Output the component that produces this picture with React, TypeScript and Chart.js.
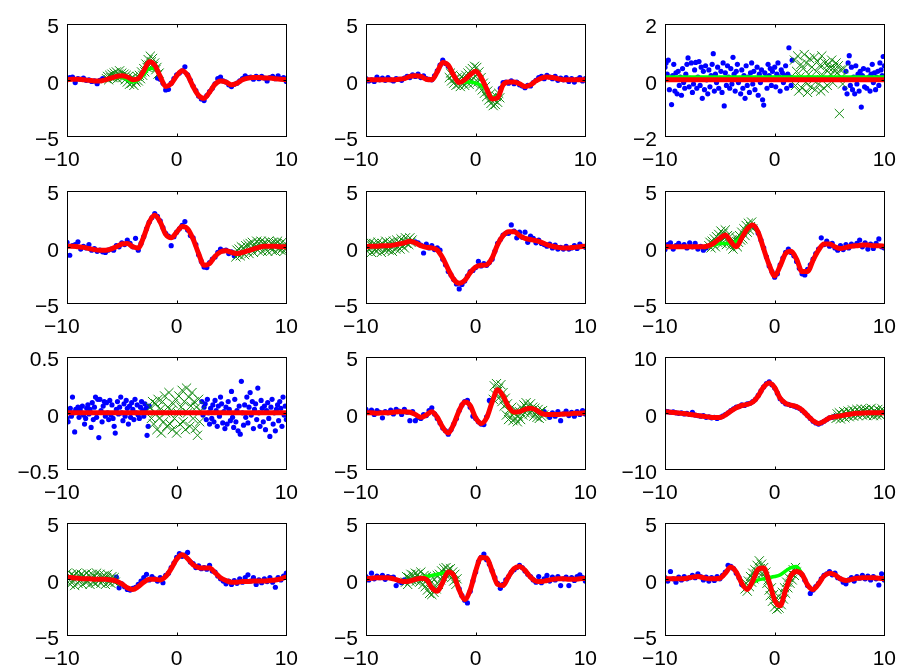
import React, { useEffect, useRef } from 'react';
import { Chart, registerables } from 'chart.js';

Chart.register(...registerables);

type Seg = { x0: number; step: number; y: number[] };

// ---------- shared x grid for the fitted (red) and true (green) curves ----------
const CURVE_X0 = -10;
const CURVE_STEP = 0.5;
const X_TICKS = [-10, 0, 10];

// ---------- panel 1 ----------
const red1 = [0, 0.05, 0.05, 0, -0.05, -0.1, -0.1, 0, 0.15, 0.3, 0.35, 0.25, 0, 0.1, 0.8, 1.6, 1.3, 0.3, -0.6, -0.35, 0.35, 0.8, 0.4, -0.6, -1.4, -1.65, -1.1, -0.4, -0.1, -0.2, -0.45, -0.3, 0, 0.15, 0.2, 0.2, 0.15, 0.15, 0.1, 0.05, 0];
const green1 = [0, 0.05, 0.05, 0, -0.05, -0.1, -0.1, 0, 0.1, 0.2, 0.2, 0.0, -0.2, 0.0, 0.45, 1.0, 1.0, 0.25, -0.6, -0.35, 0.35, 0.8, 0.4, -0.6, -1.4, -1.65, -1.1, -0.4, -0.1, -0.2, -0.45, -0.3, 0, 0.15, 0.2, 0.2, 0.15, 0.15, 0.1, 0.05, 0];
const blue1a: Seg = { x0: -10, step: 0.25, y: [0.1, 0.2, 0.25, -0.25, 0.1, 0.05, 0.15, -0.05, 0.0, -0.15, -0.1, -0.35, -0.05, 0.1, 0.05] };
const blue1b: Seg = { x0: -1.75, step: 0.25, y: [0.15, 0.05, -0.3, -0.9, -0.85, -0.3, 0.1, 0.45, 0.6, 0.8, 1.15, 0.45, -0.05, -0.55, -0.95, -1.45, -1.7, -1.85, -1.4, -1.05, -0.75, -0.35, 0.1, 0.25, -0.1, -0.2, -0.45, -0.6, -0.4, -0.3, -0.1, 0.1, 0.35, 0.2, 0.25, 0.05, 0.3, 0.1, 0.3, 0.15, -0.1, 0.2, 0.3, 0.1, 0.35, 0.1, 0.2, -0.15] };
const test1: Seg = { x0: -6.4, step: 0.1, y: [0.1, 0.3, 0.0, 0.4, 0.2, 0.5, 0.2, 0.6, 0.3, 0.7, 0.1, 0.5, 0.8, 0.3, 0.6, 0.2, 0.5, 0.0, 0.4, -0.2, 0.3, -0.4, 0.1, -0.3, 0.2, -0.5, 0.0, -0.2, 0.3, -0.1, 0.4, 0.1, 0.7, 0.4, 1.0, 0.7, 1.4, 1.1, 1.8, 1.3, 2.1, 1.6, 1.9, 1.2, 1.5, 0.9, 1.1, 0.5, 0.6] };

// ---------- panel 2 ----------
const red2 = [0, 0, 0, 0, 0, 0, 0.05, 0.1, 0.3, 0.35, 0.3, 0.05, 0.0, 0.7, 1.55, 1.3, 0.4, -0.25, 0, 0.45, 0.75, 0.2, -0.8, -1.7, -1.6, -0.45, -0.2, -0.2, -0.35, -0.6, -0.45, -0.1, 0.15, 0.25, 0.2, 0.1, 0, 0, 0, 0, 0];
const green2 = [0, 0, 0, 0, 0, 0, 0.05, 0.1, 0.3, 0.35, 0.3, 0.05, 0.0, 0.7, 1.55, 1.3, 0.3, -0.2, -0.2, -0.2, -0.3, -0.5, -0.9, -1.55, -1.6, -0.45, -0.2, -0.2, -0.35, -0.6, -0.45, -0.1, 0.15, 0.25, 0.2, 0.1, 0, 0, 0, 0, 0];
const blue2a: Seg = { x0: -10, step: 0.25, y: [0.1, -0.1, 0.0, -0.15, 0.25, 0.0, 0.15, -0.05, 0.2, 0.0, -0.1, 0.1, 0.05, -0.05, 0.15, 0.3, 0.2, 0.45, 0.3, 0.5, 0.2, 0.35, 0.1, 0.05, 0.0, 0.35, 0.8, 1.3, 1.75, 1.45, 1.2] };
const blue2b: Seg = { x0: 2.25, step: 0.25, y: [-0.75, -0.25, -0.2, -0.3, -0.1, -0.35, -0.2, -0.45, -0.55, -0.7, -0.5, -0.55, -0.25, -0.05, 0.2, 0.3, 0.1, 0.4, 0.25, 0.1, 0.3, -0.05, 0.15, 0.0, 0.2, -0.15, 0.1, -0.2, 0.05, 0.2, -0.1, 0.1] };
const test2: Seg = { x0: -2.4, step: 0.1, y: [0.2, 0.6, -0.1, 0.4, -0.3, 0.1, -0.5, 0.2, -0.4, 0.0, -0.6, 0.3, -0.3, 0.1, -0.5, 0.4, -0.2, 0.6, -0.4, 0.8, 0.0, 1.0, -0.3, 1.2, 0.3, 1.1, -0.2, 0.7, -0.6, 0.2, -0.9, -0.3, -1.2, -0.6, -1.5, -1.0, -1.8, -1.3, -2.1, -1.6, -2.3, -1.8, -2.2, -1.5, -2.0, -1.2, -1.6] };

// ---------- panel 3 ----------
const red3 = [0, 0, 0, 0, 0, 0, 0, 0, 0, 0, 0, 0, 0, 0, 0, 0, 0, 0, 0, 0, 0, 0, 0, 0, 0, 0, 0, 0, 0, 0, 0, 0, 0, 0, 0, 0, 0, 0, 0, 0, 0];
const green3 = [0.1, 0.1, 0.1, 0.1, 0.1, 0.1, 0.1, 0.1, 0.1, 0.1, 0.1, 0.1, 0.1, 0.1, 0.1, 0.1, 0.1, 0.1, 0.1, 0.1, 0.1, 0.1, 0.1, 0.1, 0.1, 0.1, 0.1, 0.1, 0.1, 0.1, 0.1, 0.1, 0.1, 0.1, 0.1, 0.1, 0.1, 0.1, 0.1, 0.1, 0.1];
const blue3a: Seg = { x0: -10, step: 0.1, y: [
  0.45, 0.6, 0.2, 0.7, -0.35, 0.05, -0.88, 0.15, 0.55, -0.4,
  0.25, -0.5, 0.3, -0.2, 0.1, -0.55, 0.4, -0.1, -0.3, 0.2,
  0.55, 0.78, -0.25, 0.05, 0.6, -0.45, -0.15, 0.35, 0.62, -0.3,
  0.1, 0.65, -0.2, 0.45, -0.66, 0.3, -0.35, 0.5, 0.0, -0.5,
  0.35, -0.25, 0.15, 0.55, 0.93, -0.4, 0.2, -0.1, 0.45, -0.3,
  0.05, 0.3, -0.45, 0.6, -0.93, 0.25, -0.2, 0.5, 0.1, -0.3,
  0.4, -0.15, 0.8, 0.2, -0.4, 0.3, 0.55, -0.1, 0.05, -0.5,
  0.35, -0.3, 0.15, -0.66, 0.5, -0.2, 0.1, -0.45, 0.25, 0.6,
  -0.15, 0.3, -0.35, 0.05, 0.45, -0.55, 0.2, -0.1, 0.35, -0.71,
  -0.9, 0.25, 0.1, -0.3, 0.55, 0.15, 0.4, -0.2, 0.3, 0.05,
  0.45, -0.25, 0.2, 0.6, 0.1, -0.4, 0.35, 0.25, -0.1, 0.15,
  0.5, -0.3, 0.2, 1.14, 0.1, -0.2, 0.7] };
const blue3b: Seg = { x0: 6.4, step: 0.1, y: [
  -0.3, 0.3, -0.5, 0.6, 0.86, -0.2, 0.45, -0.35, 0.1, -0.5,
  0.5, -0.15, 0.2, -0.4, 0.3, -0.97, 0.15, 0.4, -0.25, 0.05,
  -0.3, 0.35, 0.1, -0.4, 0.2, 0.55, -0.1, 0.25, -0.35, 0.1,
  0.3, -0.2, 0.6, 0.35, 0.15, 0.83, 0.5] };
const test3: Seg = { x0: 1.8, step: 0.1, y: [
  0.7, -0.2, 0.3, 0.85, -0.4, 0.1, 0.55, -0.3, 0.4, 0.9,
  -0.1, 0.6, -0.45, 0.2, 0.75, -0.25, 0.45, 0.0, 0.8, -0.35,
  0.3, 0.65, -0.15, 0.5, -0.4, 0.85, 0.15, -0.3, 0.6, 0.35,
  -0.2, 0.55, 0.4, 0.2, 0.7, -0.1, 0.45, 0.3, 0.6, 0.25,
  0.5, -1.2, 0.35, 0.1, -0.15, 0.4] };

// ---------- panel 4 ----------
const red4 = [0.05, 0.05, 0, -0.05, -0.15, -0.25, -0.3, -0.3, -0.2, 0, 0.25, 0.3, 0, -0.1, 0.9, 2.2, 2.8, 2.2, 1.1, 0.8, 1.3, 1.8, 1.6, 0.7, -0.6, -1.65, -1.5, -0.85, -0.45, -0.35, -0.5, -0.6, -0.5, -0.35, -0.2, -0.05, 0.05, 0.05, 0.05, 0, 0];
const blue4a: Seg = { x0: -10, step: 0.25, y: [0.4, -0.75, 0.1, 0.2, 0.45, -0.2, 0.05, -0.1, 0.2, -0.3, -0.15, -0.4, -0.3, -0.45, -0.5, -0.3, -0.2, -0.3, 0.1, 0.0, 0.35, 0.2, 0.6, 0.3, 0.0, 0.75, -0.3, 0.3, 0.9, 1.6, 2.2, 2.6, 2.95, 2.7, 2.3, 1.7, 1.2, 0.95, 0.1, 0.9, 1.3, 1.6, 1.9, 2.25, 1.5, 1.0, 0.8, 0.2, -0.7, -1.3, -1.8, -1.85, -1.4, -1.1, -0.9, -0.5, -0.2, -0.35, -0.3, -0.6, -0.45, -0.8, -0.55] };
const test4: Seg = { x0: 5.4, step: 0.1, y: [
  -0.9, -0.3, -0.7, -0.2, -0.8, 0.0, -0.5, -0.1, -0.7, 0.1,
  -0.4, 0.2, -0.6, 0.3, -0.2, 0.4, -0.5, 0.2, -0.1, 0.5,
  -0.3, 0.3, 0.0, 0.5, -0.4, 0.2, 0.4, -0.2, 0.3, -0.4,
  0.5, 0.0, 0.3, -0.3, 0.4, 0.1, -0.4, 0.3, 0.5, -0.2,
  0.2, -0.3, 0.4, 0.0, -0.4, 0.3, -0.1] };

// ---------- panel 5 ----------
const red5 = [0, 0.05, 0.05, 0.1, 0.1, 0.15, 0.25, 0.35, 0.5, 0.35, 0.1, -0.05, -0.1, -0.3, -1.0, -2.0, -2.9, -3.25, -3.0, -2.3, -1.8, -1.65, -1.6, -1.0, 0.2, 1.0, 1.35, 1.35, 1.0, 0.75, 0.65, 0.55, 0.4, 0.2, 0.05, -0.05, -0.1, -0.1, -0.05, 0, 0.05];
const blue5a: Seg = { x0: -5.5, step: 0.25, y: [0.45, 0.35, 0.15, -0.55, 0.25, -0.1, 0.1, -0.25, -0.1, -0.3, -1.1, -1.6, -2.2, -2.5, -2.9, -3.3, -3.75, -3.35, -3.05, -2.6, -2.2, -2.1, -1.85, -1.3, -1.7, -1.5, -1.65, -1.4, -1.1, -0.4, 0.3, 0.65, 1.05, 1.2, 1.2, 1.95, 1.4, 0.8, 1.3, 0.85, 1.3, 0.4, 0.95, 0.75, 0.35, 0.6, 0.3, 0.2, 0.05, 0.25, -0.1, 0.15, -0.2, -0.05, -0.2, 0.05, -0.2, -0.1, 0.1, -0.15, 0.25, 0.05, -0.05] };
const test5: Seg = { x0: -10, step: 0.1, y: [
  0.3, -0.4, 0.1, -0.2, 0.4, -0.5, 0.0, 0.3, -0.3, 0.2,
  -0.4, 0.4, -0.1, 0.2, -0.5, 0.3, 0.0, -0.3, 0.5, -0.2,
  0.3, -0.3, 0.4, 0.0, -0.4, 0.5, 0.1, -0.2, 0.6, 0.0,
  0.4, -0.2, 0.7, 0.1, 0.5, -0.1, 0.8, 0.3, 0.6, 0.2,
  0.8, 0.4, 0.6] };

// ---------- panel 6 ----------
const red6 = [0, 0, 0, 0, 0, 0, 0, 0, 0.1, 0.35, 0.75, 1.05, 0.45, 0, 0.8, 1.6, 1.95, 1.3, -0.2, -1.6, -2.6, -1.7, -0.6, -0.4, -1.1, -2.2, -2.2, -1.2, -0.3, 0.25, 0.25, 0, -0.15, -0.05, 0.05, 0.1, 0.15, 0.15, 0.1, 0.1, 0.05];
const green6 = [0, 0, 0, 0, 0, 0, 0, 0, 0.05, 0.15, 0.3, 0.3, 0.3, 0.5, 1.0, 1.7, 1.95, 1.3, -0.2, -1.6, -2.6, -1.7, -0.6, -0.4, -1.1, -2.2, -2.2, -1.2, -0.3, 0.25, 0.25, 0, -0.15, -0.05, 0.05, 0.1, 0.15, 0.15, 0.1, 0.1, 0.05];
const blue6a: Seg = { x0: -10, step: 0.25, y: [-0.25, 0.2, 0.35, -0.2, 0.1, 0.3, 0.05, 0.2, -0.1, 0.35, 0.0, 0.3, -0.2, 0.05, -0.3, -0.1] };
const blue6b: Seg = { x0: -1.75, step: 0.25, y: [1.7, 1.2, 0.6, -0.1, -0.9, -1.7, -2.2, -2.7, -2.4, -1.6, -1.0, -0.5, -0.2, -0.5, -0.8, -1.3, -1.9, -2.4, -2.5, -2.0, -1.6, -1.1, -0.6, -0.2, 0.8, 0.2, 0.5, 0.05, 0.3, -0.1, -0.3, 0.1, -0.25, 0.2, -0.1, 0.25, 0.1, 0.3, 0.6, 0.0, 0.35, -0.2, 0.25, -0.15, 0.3, 0.7, 0.0, -0.1] };
const test6: Seg = { x0: -6.0, step: 0.1, y: [
  0.1, 0.4, -0.1, 0.5, 0.2, 0.7, 0.0, 0.9, 0.4, 1.1,
  0.6, 1.4, 0.3, 1.2, 0.8, 1.5, 0.2, 1.0, 0.5, 0.9,
  0.1, 0.6, -0.2, 0.5, 0.2, 0.8, 0.0, 0.4, 1.0, 0.6,
  1.3, 0.7, 1.6, 1.0, 1.9, 1.3, 2.1, 1.5, 1.8, 2.2,
  1.6] };

// ---------- panel 7 ----------
const red7 = [0, 0, 0, 0, 0, 0, 0, 0, 0, 0, 0, 0, 0, 0, 0, 0, 0, 0, 0, 0, 0, 0, 0, 0, 0, 0, 0, 0, 0, 0, 0, 0, 0, 0, 0, 0, 0, 0, 0, 0, 0];
const blue7a: Seg = { x0: -10, step: 0.1, y: [
  -0.05, -0.08, 0.02, 0.04, -0.03, 0.14, 0.0, -0.17, 0.03, 0.01,
  0.05, -0.04, 0.03, 0.0, 0.06, -0.02, -0.1, -0.05, 0.04, 0.07,
  -0.01, 0.03, -0.13, 0.09, -0.06, 0.05, 0.14, -0.04, 0.12, -0.22,
  0.12, 0.02, -0.08, 0.06, 0.1, -0.03, 0.09, 0.0, -0.06, 0.11,
  -0.02, 0.07, -0.05, -0.12, -0.18, 0.03, 0.1, -0.01, 0.05, 0.14,
  0.0, -0.07, 0.08, -0.03, 0.11, 0.04, -0.1, 0.06, -0.04, 0.09,
  0.03, -0.06, 0.12, 0.0, 0.07, -0.02, -0.05, 0.05, 0.1, 0.02,
  -0.03, 0.08, 0.04, -0.2, -0.12, 0.06] };
const blue7b: Seg = { x0: 2.3, step: 0.1, y: [
  0.1, -0.02, 0.05, 0.08, -0.06, 0.12, 0.0, -0.1, 0.04, -0.05,
  0.07, -0.08, 0.11, 0.02, -0.12, 0.06, -0.03, 0.14, 0.08, -0.09,
  0.01, -0.14, 0.05, -0.1, 0.1, 0.03, -0.07, 0.19, -0.04, -0.13,
  0.12, -0.08, 0.02, -0.16, 0.06, -0.19, 0.28, 0.0, -0.11, 0.07,
  -0.04, 0.14, -0.09, 0.05, 0.18, -0.02, 0.1, -0.14, 0.03, 0.08,
  -0.06, 0.22, 0.0, -0.12, 0.11, 0.04, -0.08, 0.06, -0.15, 0.02,
  0.09, -0.05, -0.21, 0.05, 0.12, -0.1, 0.0, -0.16, 0.03, 0.07,
  -0.07, 0.1, 0.04, -0.12, 0.14, -0.02, 0.06, -0.06] };
const test7: Seg = { x0: -2.4, step: 0.1, y: [
  0.05, -0.05, 0.1, -0.1, 0.0, 0.08, -0.15, 0.12, -0.05, 0.03,
  -0.18, 0.1, -0.08, 0.15, 0.0, -0.12, 0.05, 0.18, -0.1, 0.02,
  -0.15, 0.08, -0.05, 0.12, -0.18, 0.0, 0.15, -0.1, 0.05, 0.2,
  -0.08, 0.1, -0.15, 0.22, 0.0, 0.14, -0.12, 0.06, 0.18, -0.05,
  0.1, -0.14, 0.05, -0.2, 0.12, -0.08, 0.02] };

// ---------- panel 8 ----------
const red8 = [0, 0, -0.05, 0, 0, 0.05, 0.1, 0.1, 0.05, -0.15, -0.4, -0.2, 0.1, -0.4, -1.3, -1.8, -1.0, 0.2, 0.95, 0.65, -0.45, -0.95, -0.45, 0.95, 2.05, 1.5, 0.55, 0.05, 0.1, 0.3, 0.4, 0.25, -0.05, -0.15, -0.15, -0.15, -0.1, -0.1, -0.05, -0.05, 0];
const green8 = [0, 0, -0.05, 0, 0, 0.05, 0.1, 0.1, 0.05, -0.15, -0.4, -0.2, 0.1, -0.4, -1.3, -1.8, -1.0, 0.2, 0.95, 0.65, -0.45, -0.95, -0.45, 0.95, 2.05, 1.5, 0.4, -0.05, 0.1, 0.3, 0.4, 0.25, -0.05, -0.15, -0.15, -0.15, -0.1, -0.1, -0.05, -0.05, 0];
const blue8a: Seg = { x0: -10, step: 0.25, y: [0.3, 0.05, 0.25, -0.15, 0.2, 0.05, -0.45, 0.1, 0.0, 0.25, -0.1, 0.3, 0.15, -0.15, 0.3, 0.05, -0.7, 0.1, -0.7, -0.4, -0.5, -0.15, -0.25, 0.2, 0.45, -0.1, -0.5, -0.9, -1.35, -1.6, -1.9, -1.5, -1.0, -0.5, 0.2, 0.7, 1.0, 1.1, 0.5, -0.3, -0.5, -0.8, -1.0, -1.05, -0.35, 1.1, 1.1] };
const blue8b: Seg = { x0: 6.25, step: 0.25, y: [0.1, -0.15, -0.4, 0.0, -0.3, 0.1, -0.7, -0.1, 0.15, -0.25, 0.05, -0.3, 0.1, -0.15, 0.2, -0.1] };
const test8: Seg = { x0: 1.6, step: 0.1, y: [
  1.2, 2.4, 1.6, 2.6, 1.9, 2.2, 1.4, 2.5, 1.0, 1.8,
  0.6, 1.3, -0.2, 0.8, -0.6, 0.3, -0.4, 0.5, -0.7, 0.0,
  -0.5, 0.2, -0.8, -0.3, 0.1, -0.6, 0.4, -0.2, 0.7, 0.0,
  0.9, 0.3, 0.6, -0.1, 0.8, 0.2, 0.5, -0.3, 0.4, 0.0,
  -0.4, 0.3, -0.5, 0.1, -0.3, 0.2, -0.2] };

// ---------- panel 9 ----------
const red9 = [0.2, 0.1, 0, -0.1, -0.2, -0.35, -0.5, -0.6, -0.75, -0.85, -0.85, -0.4, 0.3, 0.9, 1.3, 1.5, 1.9, 3.0, 4.6, 5.3, 4.5, 2.6, 1.7, 1.35, 1.1, 0.5, -0.5, -1.4, -1.9, -1.5, -0.9, -0.7, -0.55, -0.35, -0.2, -0.1, -0.05, 0, 0, 0, 0];
const blue9a: Seg = { x0: -10, step: 0.25, y: [0.3, 0.2, 0.1, 0.15, 0.0, -0.1, 0.0, -0.2, -0.1, -0.3, 0.1, -0.4, -0.5, -0.6, -0.5, -0.8, -0.7, -0.9, -0.8, -1.0, -0.8, -0.6, -0.3, 0.0, 0.4, 0.7, 1.0, 1.1, 1.4, 1.3, 1.6, 1.7, 2.0, 2.4, 3.1, 3.9, 4.6, 5.2, 5.5, 5.0, 4.4, 3.5, 2.5, 2.0, 1.6, 1.5, 1.3, 1.2, 1.0, 0.8, 0.4, 0.0, -0.5, -1.0, -1.5, -1.8, -2.0, -1.8, -1.5, -1.2, -0.9, -0.8, -0.6] };
const test9: Seg = { x0: 5.6, step: 0.1, y: [
  -1.0, -0.2, -0.8, 0.0, -1.1, -0.3, -0.6, 0.2, -0.9, -0.1,
  -0.5, 0.3, -0.7, 0.1, -0.4, 0.5, -0.6, 0.2, -0.2, 0.6,
  -0.5, 0.3, 0.0, 0.7, -0.4, 0.4, -0.1, 0.6, -0.5, 0.2,
  0.5, -0.3, 0.8, 0.0, -0.5, 0.4, 0.1, -0.4, 0.6, -0.2,
  0.3, -0.5, 0.7, -0.1, 0.2] };

// ---------- panel 10 ----------
const red10 = [0.15, 0.1, 0.05, 0, 0, -0.05, -0.05, -0.05, -0.1, -0.2, -0.45, -0.8, -0.95, -0.7, -0.3, -0.05, -0.05, -0.1, 0.2, 0.9, 1.75, 2.15, 1.8, 1.25, 1.0, 0.95, 0.95, 0.55, 0.1, -0.15, -0.3, -0.3, -0.25, -0.25, -0.2, -0.2, -0.2, -0.15, -0.1, 0, 0.15];
const blue10a: Seg = { x0: -5.5, step: 0.25, y: [0.15, -0.8, -0.45, -0.7, -0.95, -1.0, -0.85, -0.75, -0.5, -0.2, 0.1, 0.4, -0.1, 0.2, 0.0, -0.2, 0.1, -0.35, 0.3, 0.5, 1.0, 1.4, 1.9, 2.25, 2.0, 2.1, 2.35, 1.5, 1.35, 1.0, 1.15, 0.9, 1.0, 0.85, 1.2, 0.7, 0.6, 0.25, 0.0, -0.2, -0.45, -0.2, -0.5, -0.15, -0.4, 0.0, -0.3, 0.1, 0.35, -0.2, 0.1, -0.5, -0.1, -0.35, 0.0, -0.25, 0.1, -0.3, -0.75, 0.1, -0.1, 0.25, 0.5] };
const test10: Seg = { x0: -10, step: 0.1, y: [
  0.5, -0.3, 0.2, -0.5, 0.4, -0.2, 0.3, -0.6, 0.1, 0.5,
  -0.4, 0.2, -0.1, 0.4, -0.5, 0.3, 0.0, -0.3, 0.5, -0.2,
  0.3, -0.5, 0.1, 0.4, -0.3, 0.2, -0.4, 0.5, 0.0, -0.2,
  0.4, -0.4, 0.2, -0.1, 0.3, -0.5, 0.1, 0.4, -0.3, 0.0,
  -0.4, 0.2, -0.2, 0.1, -0.3] };

// ---------- panel 11 ----------
const red11 = [0, 0.05, 0.1, 0.1, 0.1, 0, -0.15, -0.25, -0.2, -0.05, 0.05, -0.05, -0.8, -1.1, -0.3, 0.6, 0.3, -1.0, -1.85, -1.0, 0.7, 1.9, 1.85, 0.7, -0.5, -0.6, 0.2, 0.9, 1.1, 0.75, 0.15, -0.2, -0.25, -0.15, -0.05, 0, 0, -0.05, -0.05, 0, 0.05];
const green11 = [0, 0.05, 0.1, 0.1, 0.1, 0, -0.15, -0.25, -0.2, 0.0, 0.1, 0.2, 0.3, 0.4, 0.5, 0.6, 0.3, -1.0, -1.85, -1.0, 0.7, 1.9, 1.85, 0.7, -0.5, -0.6, 0.2, 0.9, 1.1, 0.75, 0.15, -0.2, -0.25, -0.15, -0.05, 0, 0, -0.05, -0.05, 0, 0.05];
const blue11a: Seg = { x0: -10, step: 0.25, y: [0.2, -0.1, 0.5, 0.0, 0.25, 0.1, 0.3, -0.05, 0.2, 0.1, 0.15, -0.6, -0.2, -0.35, -0.1] };
const blue11b: Seg = { x0: -1.5, step: 0.25, y: [-0.9, -1.5, -1.9, -2.15, -1.1, -0.2, 0.6, 1.5, 1.9, 2.2, 1.7, 1.3, 0.7, 0.1, -0.4, -0.85, -0.5, -0.1, 0.2, 0.6, 0.8, 1.0, 1.2, 1.0, 0.7, 0.4, 0.2, -0.1, -0.3, 0.2, -0.35, 0.0, 0.3, -0.2, 0.15, -0.1, 0.2, -0.6, 0.0, 0.15, -0.6, 0.1, -0.15, 0.2, 0.35, 0.1, -0.2] };
const test11: Seg = { x0: -6.4, step: 0.1, y: [
  -0.3, 0.2, -0.5, 0.1, -0.2, 0.4, -0.1, 0.3, 0.0, 0.5,
  -0.2, 0.4, 0.1, -0.3, 0.6, 0.0, -0.5, 0.3, -0.7, 0.2,
  -1.0, 0.0, -1.3, -0.4, -1.4, 0.1, -1.2, -0.6, -0.9, 0.3,
  -0.5, 0.4, -0.1, 0.7, 0.2, 0.9, 0.4, 1.0, 0.5, 0.8,
  0.3, 0.9, 0.1, 0.6, -0.2, 0.4, -0.5, 0.0] };

// ---------- panel 12 ----------
const red12 = [0, 0, 0, 0, 0.05, 0.15, 0.2, 0.1, 0, 0, 0.05, 0.5, 1.05, 0.6, -0.4, -0.95, -0.2, 0.85, 0.95, -0.3, -1.9, -2.4, -1.0, 0.3, 0.65, 0.4, -0.55, -0.95, -0.45, 0.25, 0.5, 0.35, 0, -0.15, -0.05, 0.05, 0.1, 0.1, 0.1, 0.05, 0];
const green12 = [0, 0, 0, 0, 0.05, 0.15, 0.2, 0.1, 0, 0, 0.05, 0.5, 1.05, 0.6, -0.4, -0.8, -0.35, -0.1, 0.0, 0.1, 0.2, 0.35, 0.7, 1.0, 1.1, 0.4, -0.55, -0.95, -0.45, 0.25, 0.5, 0.35, 0, -0.15, -0.05, 0.05, 0.1, 0.1, 0.1, 0.05, 0];
const blue12a: Seg = { x0: -10, step: 0.25, y: [0.1, -0.2, 0.65, 0.0, -0.3, 0.15, -0.1, 0.2, 0.0, 0.1, 0.3, 0.1, 0.45, 0.2, -0.1, 0.15, -0.2, 0.1, -0.15, 0.2, 0.0, 0.3, 0.6, 1.2, 1.1, 0.9, 0.5, 0.1, -0.5] };
const blue12b: Seg = { x0: 2.25, step: 0.25, y: [0.6, 0.35, -0.1, -0.6, -1.3, -1.0, -0.7, -0.4, 0.0, 0.3, 0.45, 0.65, 0.35, 0.5, 0.1, 0.0, -0.3, -0.45, -0.1, 0.1, -0.2, 0.2, 0.05, 0.3, 0.0, 0.25, -0.1, 0.2, 0.0, -0.55, 0.45, -0.1] };
const test12: Seg = { x0: -2.7, step: 0.1, y: [
  -0.9, -0.4, -1.1, -0.2, -0.7, 0.2, -0.3, 0.5, 0.0, 0.8,
  0.4, 1.2, 0.6, 1.6, 0.9, 1.3, 0.5, 1.0, 0.2, 0.6,
  -0.4, -0.1, -1.0, -1.5, -0.8, -2.0, -1.4, -2.5, -1.8, -2.7,
  -2.2, -2.6, -1.7, -2.3, -1.2, -1.8, -0.8, -1.3, -0.3, -0.8,
  0.1, -0.4, 0.5, -0.1, 0.8, 0.3, 1.0, 0.6] };

// ---------- y-axis limits per panel ----------
const yLimits = [5, 5, 2, 5, 5, 5, 0.5, 5, 10, 5, 5, 5];

type PanelData = { red: number[]; green: number[]; blue: Seg[]; test: Seg };
const PANELS: PanelData[] = [
  { red: red1, green: green1, blue: [blue1a, blue1b], test: test1 },
  { red: red2, green: green2, blue: [blue2a, blue2b], test: test2 },
  { red: red3, green: green3, blue: [blue3a, blue3b], test: test3 },
  { red: red4, green: red4, blue: [blue4a], test: test4 },
  { red: red5, green: red5, blue: [blue5a], test: test5 },
  { red: red6, green: green6, blue: [blue6a, blue6b], test: test6 },
  { red: red7, green: red7, blue: [blue7a, blue7b], test: test7 },
  { red: red8, green: green8, blue: [blue8a, blue8b], test: test8 },
  { red: red9, green: red9, blue: [blue9a], test: test9 },
  { red: red10, green: red10, blue: [blue10a], test: test10 },
  { red: red11, green: green11, blue: [blue11a, blue11b], test: test11 },
  { red: red12, green: green12, blue: [blue12a, blue12b], test: test12 },
];

// ---------- layout ----------
const COL_LEFT = [67, 366, 665];
const ROW_TOP = [17, 184, 350, 516];
const PLOT_W = 225;
const PLOT_H = 119;
const AX_W = 60;
const AX_H = 36;
const PAD_T = 14;
const PAD_R = 18;
const CW = AX_W + PLOT_W + PAD_R;
const CH = PAD_T + PLOT_H + AX_H;
const FONT = '"Liberation Sans", Arial, Helvetica, sans-serif';
const FONT_SIZE = 21;

const segPoints = (s: Seg) =>
  s.y.map((v, i) => ({ x: Math.round((s.x0 + i * s.step) * 1000) / 1000, y: v }));
const curvePoints = (ys: number[]) => segPoints({ x0: CURVE_X0, step: CURVE_STEP, y: ys });

const fmtY = (v: number | string) => {
  const n = Number(v);
  const a = Math.round(Math.abs(n) * 1000) / 1000;
  return n < 0 ? '\u2212' + a : String(a);
};
// negative x labels carry a trailing en space so the digits sit over the tick, as in the source
const fmtX = (v: number | string) => {
  const n = Number(v);
  const a = Math.round(Math.abs(n) * 1000) / 1000;
  return n < 0 ? '\u2212' + a + '\u2002' : String(a);
};

const boxPlugin = {
  id: 'matlabBox',
  afterDraw(chart: any) {
    const { ctx, chartArea: a, scales } = chart;
    const l = Math.round(a.left) + 0.5;
    const r = Math.round(a.right) + 0.5;
    const t = Math.round(a.top) + 0.5;
    const b = Math.round(a.bottom) + 0.5;
    ctx.save();
    ctx.strokeStyle = '#000';
    ctx.lineWidth = 1;
    ctx.strokeRect(l, t, r - l, b - t);
    const tl = 3;
    ctx.beginPath();
    scales.x.ticks.forEach((tk: any) => {
      const px = Math.round(scales.x.getPixelForValue(tk.value)) + 0.5;
      ctx.moveTo(px, b); ctx.lineTo(px, b - tl);
      ctx.moveTo(px, t); ctx.lineTo(px, t + tl);
    });
    scales.y.ticks.forEach((tk: any) => {
      const py = Math.round(scales.y.getPixelForValue(tk.value)) + 0.5;
      ctx.moveTo(l, py); ctx.lineTo(l + tl, py);
      ctx.moveTo(r, py); ctx.lineTo(r - tl, py);
    });
    ctx.stroke();
    ctx.restore();
  },
};

function Panel({ idx }: { idx: number }) {
  const ref = useRef<HTMLCanvasElement>(null);
  const p = PANELS[idx];
  const ym = yLimits[idx];
  const col = idx % 3;
  const row = Math.floor(idx / 3);
  useEffect(() => {
    const bluePts = p.blue.flatMap(segPoints);
    const chart = new Chart(ref.current as HTMLCanvasElement, {
      type: 'scatter',
      data: {
        datasets: [
          {
            data: curvePoints(p.red), showLine: true, borderColor: '#ff0000', borderWidth: 5,
            pointRadius: 0, cubicInterpolationMode: 'monotone', borderCapStyle: 'round', borderJoinStyle: 'round',
          } as any,
          {
            data: curvePoints(p.green), showLine: true, borderColor: '#00ff00', borderWidth: 3.5,
            pointRadius: 0, cubicInterpolationMode: 'monotone',
          } as any,
          {
            data: segPoints(p.test), showLine: false, pointStyle: 'crossRot', pointRadius: 6.5,
            borderColor: '#138a13', backgroundColor: '#138a13', pointBorderWidth: 1,
          } as any,
          {
            data: bluePts, showLine: false, pointStyle: 'circle', pointRadius: 2.6,
            backgroundColor: '#0000ff', borderColor: '#0000ff', pointBorderWidth: 0,
          } as any,
        ],
      },
      options: {
        animation: false,
        responsive: false,
        maintainAspectRatio: false,
        events: [],
        layout: { padding: { top: PAD_T, right: PAD_R, left: 0, bottom: 0 } },
        plugins: { legend: { display: false }, tooltip: { enabled: false } },
        scales: {
          x: {
            type: 'linear', min: -10, max: 10,
            afterFit: (s: any) => { s.height = AX_H; },
            afterBuildTicks: (s: any) => { s.ticks = X_TICKS.map((v) => ({ value: v })); },
            grid: { display: false, drawTicks: false },
            border: { display: false },
            ticks: { padding: 12, color: '#000', font: { family: FONT, size: FONT_SIZE }, callback: fmtX, maxRotation: 0, autoSkip: false },
          },
          y: {
            type: 'linear', min: -ym, max: ym,
            afterFit: (s: any) => { s.width = AX_W; },
            afterBuildTicks: (s: any) => { s.ticks = [-ym, 0, ym].map((v) => ({ value: v })); },
            grid: { display: false, drawTicks: false },
            border: { display: false },
            ticks: { padding: 8, labelOffset: 4, color: '#000', font: { family: FONT, size: FONT_SIZE }, callback: fmtY, autoSkip: false },
          },
        },
      } as any,
      plugins: [boxPlugin],
    });
    return () => chart.destroy();
  }, []);
  return (
    <canvas
      ref={ref}
      width={CW}
      height={CH}
      style={{ position: 'absolute', left: COL_LEFT[col] - AX_W, top: ROW_TOP[row] - PAD_T, width: CW, height: CH }}
    />
  );
}

export default function App() {
  return (
    <div style={{ position: 'absolute', left: 0, top: 0, width: 906, height: 671, background: '#fff', overflow: 'hidden' }}>
      {PANELS.map((_, i) => <Panel key={i} idx={i} />)}
    </div>
  );
}
